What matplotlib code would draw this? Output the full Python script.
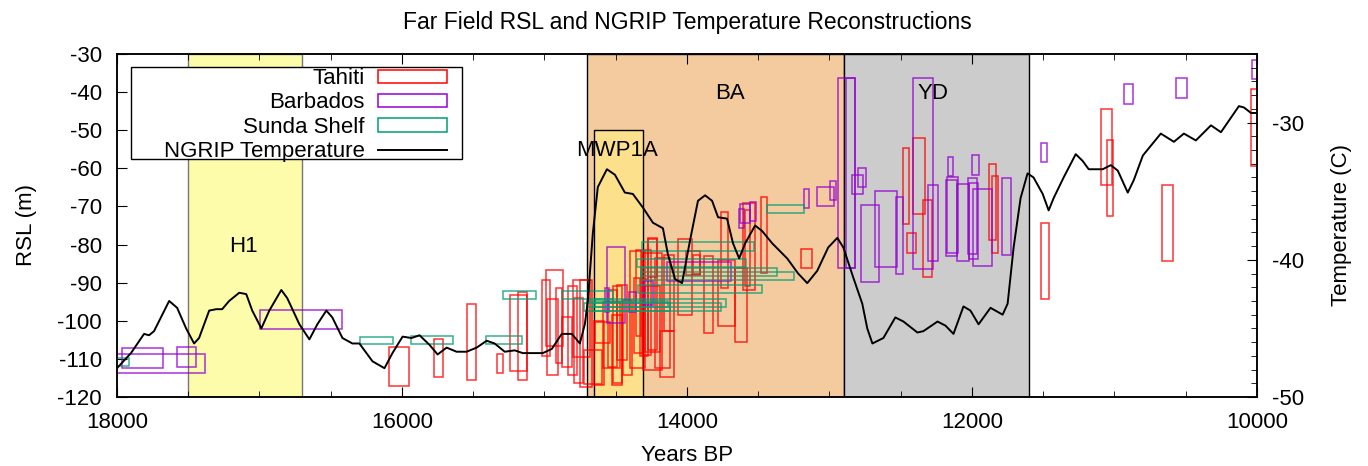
import matplotlib.pyplot as plt
import numpy as np
from matplotlib.patches import Rectangle, Patch
from matplotlib.lines import Line2D
from matplotlib.ticker import MultipleLocator

plt.rcParams['font.family'] = ['Liberation Sans', 'DejaVu Sans']
plt.rcParams['font.size'] = 16
plt.rcParams['axes.unicode_minus'] = False

# RSL indicator boxes: oldest age, youngest age, upper RSL, lower RSL
tahiti_old = [16091, 15773, 15542, 15331, 15242, 15184, 15019, 14991, 14980, 14921,
              14879, 14833, 14802, 14791, 14720, 14650, 14587, 14552, 14528, 14493,
              14451, 14370, 14360, 14330, 14294, 14224, 14189, 14159, 14061, 14009,
              13880, 13780, 13761, 13661, 13605, 13593, 13480, 13200, 14306, 14517,
              14645, 14400, 14751, 14271, 13955, 12482, 12412, 12341, 12458, 11878,
              11857, 11517, 11096, 11050, 10668, 10044, 14271, 14313]
tahiti_young = [15949, 15710, 15478, 15289, 15125, 15120, 14961, 14872, 14907, 14879,
                14809, 14770, 14681, 14728, 14598, 14580, 14470, 14493, 14458, 14419,
                14388, 14306, 14323, 14271, 14189, 14119, 14089, 14089, 13963, 13909,
                13815, 13663, 13714, 13581, 13522, 13558, 13438, 13120, 14177, 14458,
                14540, 14294, 14669, 14208, 13908, 12440, 12327, 12278, 12395, 11833,
                11815, 11457, 11015, 11008, 10587, 10000, 14208, 14252]
tahiti_top = [-107.0, -104.8, -95.6, -108.8, -93.2, -92.5, -89.4, -86.6, -94.3, -91.3,
              -98.9, -91.0, -89.3, -94.1, -107.6, -100.0, -95.0, -91.9, -98.4, -90.6,
              -94.5, -88.8, -81.5, -89.1, -91.0, -83.5, -102.8, -82.7, -78.5, -81.6,
              -82.9, -84.0, -71.5, -86.2, -69.1, -70.9, -67.6, -81.1, -82.2, -91.0,
              -100.2, -81.8, -89.2, -78.4, -82.7, -54.6, -52.0, -68.4, -77.0, -58.8,
              -61.9, -74.4, -44.4, -52.5, -64.5, -39.1, -78.5, -81.4]
tahiti_bottom = [-117.1, -114.8, -115.5, -113.8, -113.2, -115.5, -109.2, -106.6, -114.2, -111.0,
                 -112.0, -114.2, -109.4, -116.4, -116.7, -116.8, -112.5, -112.0, -116.8, -110.3,
                 -114.2, -108.5, -104.1, -109.2, -108.1, -112.4, -114.7, -102.8, -98.4, -87.9,
                 -103.1, -101.3, -91.4, -105.5, -91.9, -91.0, -87.5, -86.2, -112.9, -116.4,
                 -105.9, -112.4, -117.3, -88.4, -87.8, -74.6, -72.0, -88.4, -82.1, -78.9,
                 -82.1, -94.3, -64.5, -72.6, -84.4, -59.3, -107.6, -109.0]

barbados_old = [17967, 18000, 17581, 16996, 14563, 14575, 14407, 14299, 14138, 13628,
                13635, 13558, 13177, 13086, 12994, 12938, 12884, 12844, 12798, 12781,
                12680, 12533, 12411, 12306, 12170, 12184, 12178, 12103, 12025, 12021,
                12002, 11990, 11791, 11518, 10930, 10570, 10032]
barbados_young = [17675, 17382, 17446, 16419, 14433, 14545, 14360, 14236, 13694, 13558,
                  13600, 13516, 13144, 12970, 12956, 12821, 12821, 12767, 12746, 12650,
                  12528, 12482, 12271, 12236, 12135, 12107, 12100, 12023, 11967, 11955,
                  11951, 11861, 11728, 11475, 10868, 10488, 10000]
barbados_top = [-107.2, -108.8, -106.9, -97.1, -80.7, -91.4, -92.5, -89.5, -84.6, -69.3,
                -70.6, -68.8, -65.4, -64.9, -63.4, -36.3, -36.3, -61.7, -59.9, -69.7,
                -65.9, -67.5, -36.3, -64.5, -57.0, -63.0, -62.4, -64.1, -62.5, -63.8,
                -56.6, -65.4, -62.5, -53.3, -37.8, -36.4, -31.6]
barbados_bottom = [-112.3, -113.8, -112.0, -102.1, -100.6, -97.6, -97.6, -95.8, -89.6, -74.4,
                   -75.7, -73.8, -70.4, -69.9, -68.4, -86.2, -86.2, -66.7, -64.9, -89.7,
                   -85.9, -87.8, -86.4, -84.4, -62.1, -82.9, -82.3, -84.3, -82.5, -83.8,
                   -61.7, -85.6, -82.7, -58.3, -43.0, -41.5, -36.5]

sunda_old = [18000, 16295, 15939, 15410, 15289, 14879, 14720, 14704, 14318, 14349,
             14323, 14323, 14346, 14645, 14657, 13440]
sunda_young = [17914, 16061, 15640, 15160, 15060, 14517, 14119, 14135, 13528, 13588,
               13370, 13247, 13476, 13728, 13763, 13178]
sunda_top = [-109.8, -104.3, -104.0, -103.9, -92.2, -92.1, -95.4, -94.8, -79.4, -83.7,
             -86.2, -87.2, -90.7, -94.3, -95.4, -69.7]
sunda_bottom = [-111.8, -106.1, -106.1, -106.1, -94.2, -94.2, -97.5, -96.4, -81.6, -85.8,
                -88.2, -89.2, -92.7, -96.3, -97.4, -71.7]

ngrip_age = [18000, 17902, 17810, 17775, 17740, 17634, 17578, 17515, 17459, 17424,
             17353, 17304, 17262, 17213, 17142, 17093, 17051, 16987, 16931, 16847,
             16805, 16720, 16650, 16594, 16531, 16489, 16418, 16348, 16299, 16207,
             16123, 16067, 15996, 15933, 15877, 15807, 15750, 15687, 15617, 15547,
             15476, 15406, 15350, 15279, 15209, 15153, 15083, 15012, 14949, 14879,
             14808, 14752, 14717, 14696, 14661, 14626, 14562, 14506, 14436, 14380,
             14309, 14239, 14169, 14134, 14084, 14035, 13979, 13923, 13873, 13824,
             13782, 13719, 13677, 13634, 13592, 13522, 13473, 13402, 13297, 13220,
             13156, 13086, 13009, 12945, 12903, 12833, 12770, 12735, 12699, 12622,
             12538, 12481, 12383, 12341, 12242, 12186, 12130, 12060, 12011, 11954,
             11870, 11785, 11750, 11708, 11659, 11610, 11568, 11504, 11462, 11427,
             11357, 11272, 11223, 11181, 11083, 11026, 10977, 10907, 10865, 10801,
             10675, 10583, 10513, 10429, 10323, 10253, 10127, 10091, 10042, 10000]
ngrip_temp = [-47.9, -46.8, -45.4, -45.5, -45.2, -43.0, -43.5, -45.0, -46.1, -45.7,
              -43.7, -43.6, -43.6, -43.0, -42.4, -42.5, -43.7, -45.0, -43.7, -42.2,
              -42.8, -44.7, -45.8, -44.7, -43.7, -44.2, -45.7, -46.1, -46.1, -47.4,
              -47.9, -46.8, -45.6, -45.7, -45.5, -46.2, -46.9, -46.4, -46.7, -46.7,
              -46.4, -45.9, -46.1, -46.7, -46.6, -46.8, -46.8, -46.8, -46.5, -45.4,
              -45.4, -46.1, -44.7, -43.0, -38.1, -34.7, -33.4, -33.8, -35.1, -35.2,
              -36.2, -37.3, -37.7, -39.6, -41.4, -41.7, -38.6, -35.7, -35.3, -35.7,
              -36.9, -37.0, -38.8, -39.9, -38.8, -37.5, -37.9, -38.8, -39.9, -41.0,
              -41.7, -40.8, -39.1, -38.4, -39.1, -41.3, -43.2, -45.0, -46.1, -45.7,
              -44.2, -44.5, -45.3, -45.2, -44.5, -44.8, -45.4, -43.4, -43.7, -44.7,
              -43.5, -44.0, -43.2, -39.1, -35.5, -33.7, -34.0, -35.2, -36.4, -35.5,
              -34.0, -32.3, -32.8, -33.4, -33.4, -33.1, -33.5, -35.1, -34.2, -32.4,
              -30.8, -31.4, -30.8, -31.3, -30.2, -30.7, -28.8, -28.9, -29.3, -29.3]

# climate periods (age range, upper RSL)
period_names = ["H1", "BA", "YD", "MWP1A"]
period_old = [17500, 14700, 12900, 14650]
period_young = [16700, 12900, 11600, 14310]
period_top = [-30, -30, -30, -50]
period_colors = ["#fdfcab", "#f4cb9e", "#cccccc", "#fde08b"]
period_edges = ["#777777", "black", "black", "black"]
label_pos = [(17110, -80.5), (13700, -40.3), (12275, -40.3), (14490, -55.3)]


def draw_boxes(ax, old, young, top, bottom, color):
    for o, y, t, b in zip(old, young, top, bottom):
        ax.add_patch(Rectangle((y, b), o - y, t - b, fill=False, edgecolor=color,
                               lw=1.1, alpha=0.8, zorder=3))


fig, ax = plt.subplots(figsize=(13.68, 4.66), dpi=100)
fig.subplots_adjust(left=117 / 1368, right=1257 / 1368, bottom=1 - 397 / 466, top=1 - 54 / 466)

for name, o, y, t, c, e, pos in zip(period_names, period_old, period_young, period_top,
                                     period_colors, period_edges, label_pos):
    ax.add_patch(Rectangle((y, -120), o - y, t + 120, facecolor=c, edgecolor=e, lw=1.0, zorder=1))
    ax.text(pos[0], pos[1], name, ha="center", va="center", fontsize=16, zorder=2)

tahiti_c, barb_c, sunda_c = "#ff0000", "#9400d3", "#009e73"
draw_boxes(ax, tahiti_old, tahiti_young, tahiti_top, tahiti_bottom, tahiti_c)
draw_boxes(ax, barbados_old, barbados_young, barbados_top, barbados_bottom, barb_c)
draw_boxes(ax, sunda_old, sunda_young, sunda_top, sunda_bottom, sunda_c)

ax.set_xlim(18000, 10000)
ax.set_ylim(-120, -30)
ax.xaxis.set_major_locator(MultipleLocator(2000))
ax.xaxis.set_minor_locator(MultipleLocator(500))
ax.yaxis.set_major_locator(MultipleLocator(10))
ax.tick_params(axis="x", which="both", direction="in", top=True, pad=11)
ax.tick_params(axis="x", which="major", length=7)
ax.tick_params(axis="x", which="minor", length=4)
ax.tick_params(axis="y", direction="in", length=7, right=False, pad=11)
ax.set_xlabel("Years BP")
ax.set_ylabel("RSL (m)")
ax.xaxis.set_label_coords(0.5, -0.14)
ax.yaxis.set_label_coords(-0.07, 0.5)
ax.set_title("Far Field RSL and NGRIP Temperature Reconstructions", fontsize=16.5, pad=18)

ax2 = ax.twinx()
ax2.plot(ngrip_age, ngrip_temp, color="black", lw=1.4, zorder=4)
ax2.set_ylim(-50, -25)
ax2.yaxis.set_major_locator(MultipleLocator(10))
ax2.yaxis.set_minor_locator(MultipleLocator(1))
ax2.tick_params(axis="y", which="both", direction="in", pad=11)
ax2.tick_params(axis="y", which="major", length=7)
ax2.tick_params(axis="y", which="minor", length=4)
ax2.set_ylabel("Temperature (C)")
ax2.yaxis.set_label_coords(1.065, 0.5)

for a in (ax, ax2):
    for s in a.spines.values():
        s.set_linewidth(1.1)

# legend with a wide frame like the original
ax2.add_patch(Rectangle((0.0123, 0.694), 0.2903, 0.268, transform=ax2.transAxes,
                        facecolor="white", edgecolor="black", lw=1.0, zorder=5))
handles = [Patch(facecolor="none", edgecolor=c, lw=1.1) for c in (tahiti_c, barb_c, sunda_c)]
handles.append(Line2D([], [], color="black", lw=1.4))
labels = ["Tahiti", "Barbados", "Sunda Shelf", "NGRIP Temperature"]
leg = ax2.legend(handles, labels, loc="upper right", bbox_to_anchor=(0.2905, 0.962),
                 borderaxespad=0, borderpad=0.05, markerfirst=False, frameon=False,
                 handlelength=3.1, handleheight=0.55, handletextpad=0.6, labelspacing=0.15)
leg.set_zorder(6)

fig.savefig("out.png", dpi=100)
